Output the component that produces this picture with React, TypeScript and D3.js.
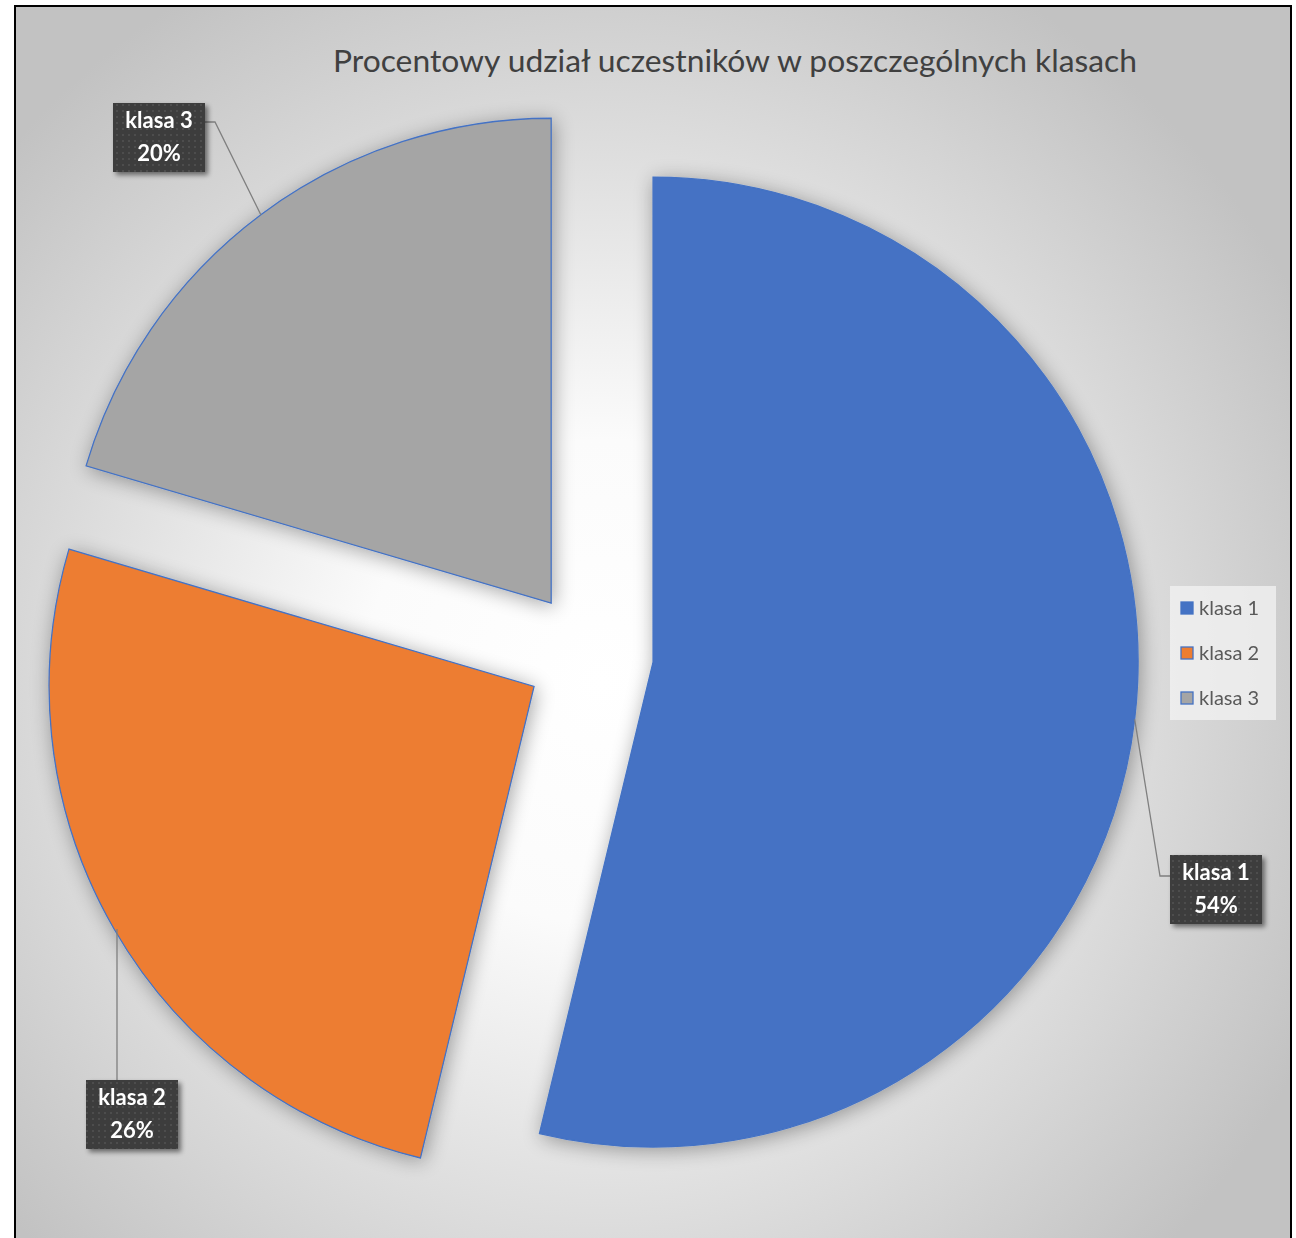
import React from "react";
import * as d3 from "d3";

const categories = ["klasa 1", "klasa 2", "klasa 3"];
const values = [50, 24, 19];
const colors = ["#4472C4", "#ED7D31", "#A5A5A5"];
const title = "Procentowy udział uczestników w poszczególnych klasach";

const W = 1296;
const H = 1238;
const cx = 589.5;
const cy = 654.5;
const R = 485;
const explode = 64;

// label box top-left positions (layout)
const labelBoxes = [
  { x: 1170, y: 855, lead: "left" },
  { x: 86, y: 1080, lead: "top" },
  { x: 113, y: 103, lead: "right" },
];
const boxW = 92;
const boxH = 69;

export default function App() {
  const pie = d3.pie<number>().sort(null).value((d) => d);
  const arcs = pie(values);
  const total = d3.sum(values);
  const arcGen = d3.arc<d3.PieArcDatum<number>>().innerRadius(0).outerRadius(R);

  const offs = arcs.map((a) => {
    const m = (a.startAngle + a.endAngle) / 2;
    return { dx: Math.sin(m) * explode, dy: -Math.cos(m) * explode, m };
  });

  const legendY = d3.scalePoint<string>().domain(categories).range([608, 698]);

  return (
    <div style={{ position: "absolute", left: 0, top: 0 }}>
      <svg width={W} height={H} style={{ display: "block" }}>
        <defs>
          <radialGradient id="bg" cx="46%" cy="52%" r="62%">
            <stop offset="0%" stopColor="#ffffff" />
            <stop offset="30%" stopColor="#fbfbfb" />
            <stop offset="100%" stopColor="#c2c2c2" />
          </radialGradient>
          <filter id="sliceShadow" x="-20%" y="-20%" width="140%" height="140%">
            <feGaussianBlur in="SourceAlpha" stdDeviation="10" />
            <feOffset dx="2" dy="3" result="b" />
            <feComponentTransfer>
              <feFuncA type="linear" slope="0.35" />
            </feComponentTransfer>
            <feMerge>
              <feMergeNode />
              <feMergeNode in="SourceGraphic" />
            </feMerge>
          </filter>
          <filter id="boxShadow" x="-20%" y="-20%" width="150%" height="150%">
            <feGaussianBlur in="SourceAlpha" stdDeviation="2.5" />
            <feOffset dx="3" dy="3" />
            <feComponentTransfer>
              <feFuncA type="linear" slope="0.5" />
            </feComponentTransfer>
            <feMerge>
              <feMergeNode />
              <feMergeNode in="SourceGraphic" />
            </feMerge>
          </filter>
          <pattern id="dots" width="6" height="6" patternUnits="userSpaceOnUse">
            <rect width="6" height="6" fill="#3c3c3c" />
            <rect x="2" y="2" width="2" height="2" fill="#4d4d4d" />
          </pattern>
        </defs>

        <rect x={15} y={6} width={1276} height={1300} fill="url(#bg)" stroke="#000" strokeWidth={2} />

        <text
          x={735}
          y={72}
          textAnchor="middle"
          fontFamily="Lato, 'Open Sans', sans-serif"
          fontSize={30}
          fill="#404040"
          textLength={804}
          lengthAdjust="spacingAndGlyphs"
        >
          {title}
        </text>

        <g filter="url(#sliceShadow)">
          {arcs.map((a, i) => (
            <path
              key={categories[i]}
              d={arcGen(a) || ""}
              transform={`translate(${cx + offs[i].dx},${cy + offs[i].dy})`}
              fill={colors[i]}
              stroke="#4472C4"
              strokeWidth={1.3}
            />
          ))}
        </g>

        {arcs.map((a, i) => {
          const o = offs[i];
          const px = cx + o.dx + Math.sin(o.m) * R;
          const py = cy + o.dy - Math.cos(o.m) * R;
          const b = labelBoxes[i];
          let pts: [number, number][];
          if (b.lead === "left") {
            const ly = b.y + 21;
            pts = [[px, py], [b.x - 10, ly], [b.x, ly]];
          } else if (b.lead === "right") {
            const ly = b.y + 19;
            pts = [[px, py], [b.x + boxW + 10, ly], [b.x + boxW, ly]];
          } else {
            const lx = b.x + 31;
            pts = [[lx, py], [lx, b.y]];
          }
          return (
            <polyline
              key={"l" + i}
              points={pts.map((p) => p.join(",")).join(" ")}
              fill="none"
              stroke="#7f7f7f"
              strokeWidth={1.3}
            />
          );
        })}

        {arcs.map((a, i) => {
          const b = labelBoxes[i];
          return (
            <g key={"b" + i} filter="url(#boxShadow)">
              <rect x={b.x} y={b.y} width={boxW} height={boxH} fill="url(#dots)" />
              <text
                x={b.x + boxW / 2}
                y={b.y + 25}
                textAnchor="middle"
                fontFamily="Lato, 'Open Sans', sans-serif"
                fontWeight="bold"
                fontSize={22}
                fill="#ffffff"
              >
                {categories[i]}
              </text>
              <text
                x={b.x + boxW / 2}
                y={b.y + 58}
                textAnchor="middle"
                fontFamily="Lato, 'Open Sans', sans-serif"
                fontWeight="bold"
                fontSize={22}
                fill="#ffffff"
              >
                {Math.round((a.value / total) * 100) + "%"}
              </text>
            </g>
          );
        })}

        <rect x={1170} y={586} width={106} height={134} fill="#f3f3f3" opacity={0.75} />
        {categories.map((c, i) => (
          <g key={"lg" + c}>
            <rect
              x={1181}
              y={(legendY(c) as number) - 6}
              width={12}
              height={12}
              fill={colors[i]}
              stroke="#4472C4"
              strokeWidth={1.3}
            />
            <text
              x={1199}
              y={(legendY(c) as number) + 7}
              fontFamily="Lato, 'Open Sans', sans-serif"
              fontSize={20}
              fill="#595959"
            >
              {c}
            </text>
          </g>
        ))}
      </svg>
    </div>
  );
}
